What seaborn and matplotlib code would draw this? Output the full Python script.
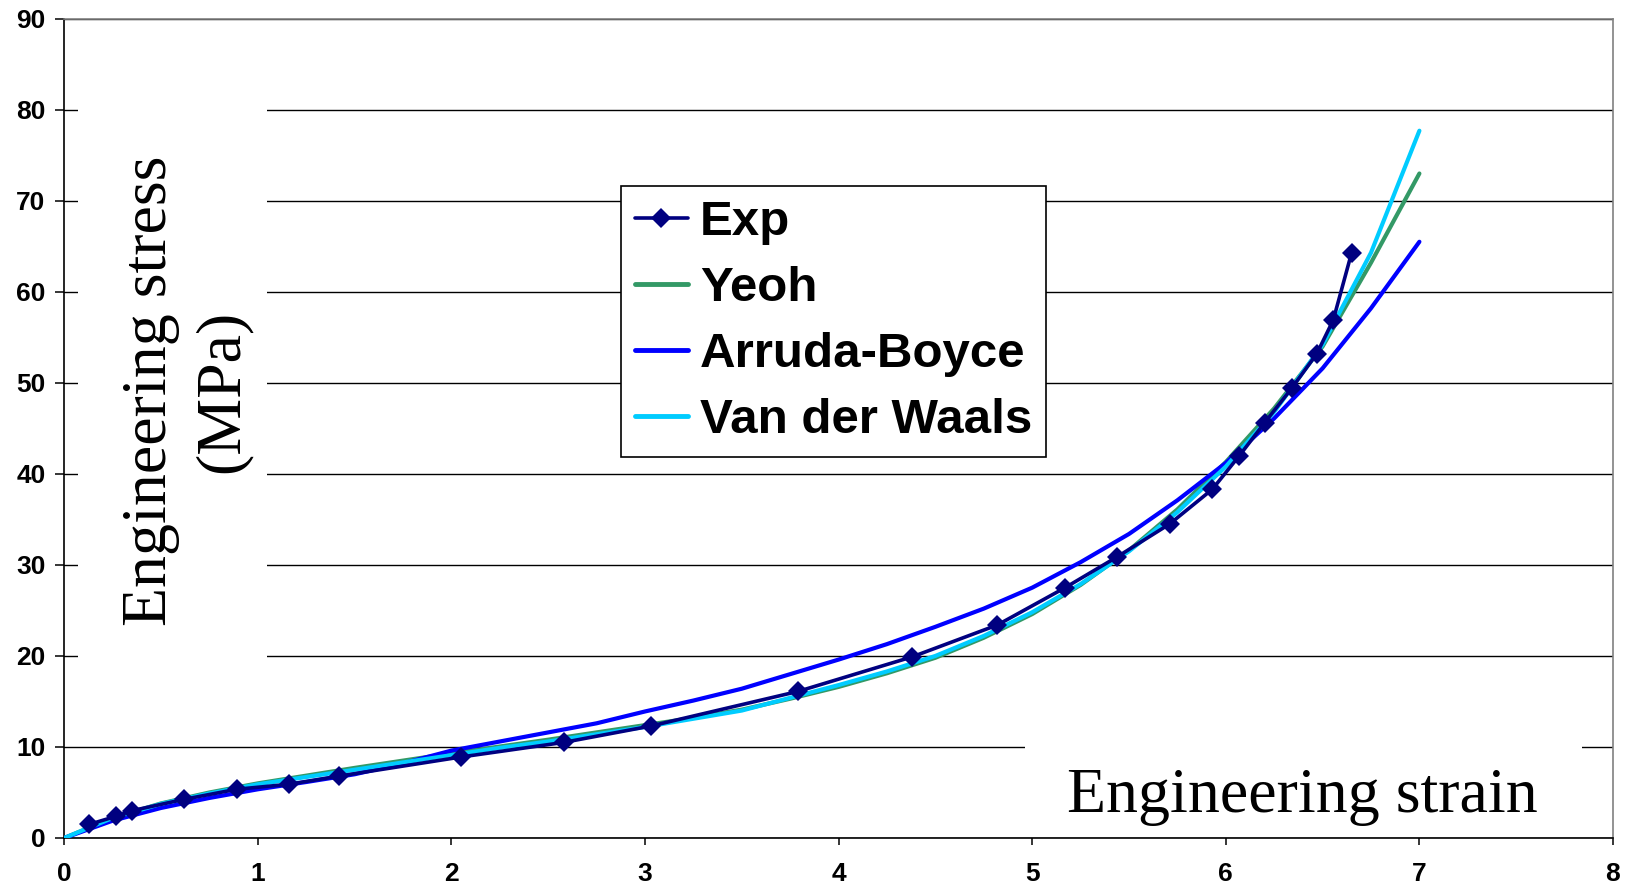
import matplotlib
matplotlib.use("Agg")
import matplotlib.pyplot as plt
import seaborn as sns
from matplotlib.patches import Rectangle
from matplotlib.lines import Line2D

# Experimental uniaxial tension data
exp_strain = [0.13, 0.27, 0.35, 0.62, 0.89, 1.16, 1.42, 2.05, 2.58, 3.03, 3.79,
              4.38, 4.82, 5.17, 5.44, 5.71, 5.93, 6.07, 6.20, 6.34, 6.47, 6.555, 6.65]
exp_stress = [1.5, 2.4, 3.0, 4.25, 5.35, 5.9, 6.8, 8.9, 10.5, 12.3, 16.1,
              19.9, 23.4, 27.5, 30.9, 34.5, 38.3, 42.0, 45.6, 49.4, 53.2, 56.9, 64.3]

# Hyperelastic model predictions
model_strain = [0.0, 0.25, 0.5, 0.75, 1.0, 1.25, 1.5, 1.75, 2.0, 2.25, 2.5, 2.75,
                3.0, 3.25, 3.5, 3.75, 4.0, 4.25, 4.5, 4.75, 5.0, 5.25, 5.5, 5.75,
                6.0, 6.25, 6.5, 6.75, 7.0]
yeoh_stress = [0.0, 2.2, 3.8, 5.0, 6.0, 6.85, 7.7, 8.5, 9.3, 10.05, 10.8, 11.6,
               12.4, 13.2, 14.1, 15.3, 16.6, 18.1, 19.8, 22.0, 24.6, 27.8, 31.6, 36.1,
               41.3, 47.2, 54.0, 63.2, 73.0]
arruda_boyce_stress = [0.0, 1.9, 3.3, 4.4, 5.35, 6.15, 7.0, 8.2, 9.6, 10.6, 11.6, 12.6,
                       13.9, 15.1, 16.4, 18.0, 19.6, 21.3, 23.2, 25.2, 27.5, 30.3, 33.4, 37.1,
                       41.2, 46.1, 51.6, 58.2, 65.5]
vdw_stress = [0.0, 2.2, 3.75, 4.9, 5.9, 6.7, 7.5, 8.3, 9.1, 9.9, 10.6, 11.4,
              12.2, 13.1, 14.0, 15.4, 16.8, 18.3, 20.0, 22.2, 24.8, 27.9, 31.5, 35.8,
              40.8, 46.8, 54.2, 64.3, 77.7]

series_labels = ["Exp", "Yeoh", "Arruda-Boyce", "Van der Waals"]
series_colors = ["#000080", "#339966", "#0000FF", "#00CCFF"]

x_ticks = [0, 1, 2, 3, 4, 5, 6, 7, 8]
y_ticks = [0, 10, 20, 30, 40, 50, 60, 70, 80, 90]

sns.set_theme(style="white")
plt.rcParams["font.family"] = ["Liberation Sans", "DejaVu Sans"]
plt.rcParams["text.color"] = "black"
plt.rcParams["axes.labelcolor"] = "black"
plt.rcParams["xtick.color"] = "black"
plt.rcParams["ytick.color"] = "black"

fig = plt.figure(figsize=(16.26, 8.93), dpi=100)
ax = fig.add_axes([0.0395, 0.0616, 0.9525, 0.9174])
ax.set_axisbelow(True)

lw = 3.0
sns.lineplot(x=model_strain, y=yeoh_stress, ax=ax, color=series_colors[1], lw=lw,
             sort=False, zorder=3)
sns.lineplot(x=model_strain, y=arruda_boyce_stress, ax=ax, color=series_colors[2], lw=lw,
             sort=False, zorder=3)
sns.lineplot(x=model_strain, y=vdw_stress, ax=ax, color=series_colors[3], lw=lw,
             sort=False, zorder=4)
sns.lineplot(x=exp_strain, y=exp_stress, ax=ax, color=series_colors[0], lw=2.6,
             marker="D", markersize=10, markeredgewidth=0, sort=False, zorder=5)

ax.set_xlim(0, 8)
ax.set_ylim(0, 90)
ax.set_xticks(x_ticks)
ax.set_yticks(y_ticks)
ax.set_xlabel("")
ax.set_ylabel("")

ax.yaxis.grid(True, color="black", lw=1.0)
ax.xaxis.grid(False)

for side in ("left", "bottom"):
    ax.spines[side].set_color("black")
    ax.spines[side].set_linewidth(1.2)
for side in ("top", "right"):
    ax.spines[side].set_color("#808080")
    ax.spines[side].set_linewidth(1.2)

ax.tick_params(axis="y", direction="out", length=6.5, width=1.1, color="black",
               labelcolor="black", pad=7, labelsize=19, left=True)
ax.tick_params(axis="x", direction="out", length=5, width=1.1, color="black",
               labelcolor="black", pad=12, labelsize=19, bottom=True)
for lab in ax.get_xticklabels() + ax.get_yticklabels():
    lab.set_fontweight("bold")

# White panels behind the in-plot axis titles
ax.add_patch(Rectangle((0.071, 15), 0.977, 66, facecolor="white", edgecolor="none",
                       zorder=1))
ax.add_patch(Rectangle((4.965, 0.2), 2.875, 15, facecolor="white", edgecolor="none",
                       zorder=1))

ax.text(0.633, 49.1, "Engineering stress\n(MPa)", rotation=90, ha="center", va="center",
        multialignment="center", fontsize=46, family="Liberation Serif", color="black",
        linespacing=1.3, zorder=6)
ax.text(6.398, 2.86, "Engineering strain", ha="center", va="baseline",
        fontsize=46, family="Liberation Serif", color="black", zorder=6)

handles = [
    Line2D([], [], color=series_colors[0], lw=2.6, marker="D", markersize=10,
           markeredgewidth=0),
    Line2D([], [], color=series_colors[1], lw=3.5),
    Line2D([], [], color=series_colors[2], lw=3.5),
    Line2D([], [], color=series_colors[3], lw=3.5),
]
leg = ax.legend(handles, series_labels, loc="upper left", bbox_to_anchor=(0.3595, 0.7958),
                borderaxespad=0, frameon=True, fancybox=False, shadow=False,
                prop={"family": "Liberation Sans", "weight": "bold", "size": 35.5},
                handlelength=1.07, handletextpad=0.25, borderpad=0.28, labelspacing=0.43)
for t in leg.get_texts():
    t.set_color("black")
leg.get_frame().set_edgecolor("black")
leg.get_frame().set_linewidth(1.2)
leg.get_frame().set_facecolor("white")
leg.get_frame().set_alpha(1)
leg.set_zorder(10)

fig.savefig("out.png", dpi=100, facecolor="white")
